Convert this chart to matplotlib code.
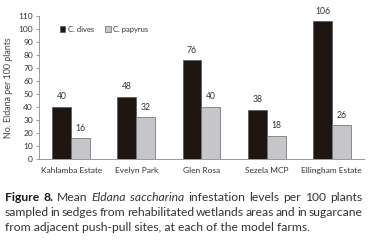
import matplotlib
matplotlib.use("Agg")
import matplotlib.pyplot as plt
import numpy as np

farms = ["Kahlamba Estate", "Evelyn Park", "Glen Rosa", "Sezela MCP", "Ellingham Estate"]
c_dives = [40, 48, 76, 38, 106]
c_papyrus = [16, 32, 40, 18, 26]
series_names = ["C. dives", "C. papyrus"]
yticks = list(range(0, 111, 10))

caption_lines = [
    [("Figure", "bold"), ("8.", "bold"), ("Mean", "normal"), ("Eldana", "italic"),
     ("saccharina", "italic"), ("infestation", "normal"), ("levels", "normal"),
     ("per", "normal"), ("100", "normal"), ("plants", "normal")],
    [(w, "normal") for w in "sampled in sedges from rehabilitated wetlands areas and in sugarcane".split()],
]
last_line = "from adjacent push-pull sites, at each of the model farms."

plt.rcParams["font.family"] = ["Lato", "DejaVu Sans"]

fig = plt.figure(figsize=(3.78, 2.41), dpi=100)
ax = fig.add_axes([0.102, 0.340, 0.862, 0.594])

x = np.arange(len(farms))
w = 0.29
dark = "#1f1512"
light = "#c6c6ca"
b1 = ax.bar(x - w / 2, c_dives, w, color=dark, edgecolor="#555555", linewidth=0.5, label=series_names[0])
b2 = ax.bar(x + w / 2, c_papyrus, w, color=light, edgecolor="#666666", linewidth=0.5, label=series_names[1])

for bars in (b1, b2):
    for bar in bars:
        h = bar.get_height()
        ax.annotate(f"{int(h)}", (bar.get_x() + bar.get_width() / 2, h),
                    xytext=(0, 4), textcoords="offset points",
                    ha="center", va="bottom", fontsize=6.2, color="#333333")

ax.set_xlim(-0.5, len(farms) - 0.5)
ax.set_ylim(0, 110)
ax.set_yticks(yticks)
ax.set_xticks(x)
ax.set_xticklabels(farms)
ax.tick_params(axis="y", labelsize=6, colors="#888888", labelcolor="#333333", length=2, width=0.6, pad=2)
ax.tick_params(axis="x", labelsize=6, labelcolor="#333333", length=0, pad=6)
for s in ("top", "right"):
    ax.spines[s].set_visible(False)
for s in ("left", "bottom"):
    ax.spines[s].set_color("#999999")
    ax.spines[s].set_linewidth(0.7)
ax.set_ylabel("No. Eldana per 100 plants", fontsize=6.4, color="#444444", labelpad=4)

leg = ax.legend(loc="upper left", bbox_to_anchor=(0.045, 0.98), ncol=2, frameon=False,
                fontsize=5.5, handlelength=0.7, handleheight=0.7, handletextpad=0.3,
                columnspacing=1.5, labelcolor="#333333")

# caption: first two lines justified, last line plain
left_px, right_px = 5, 362
baselines = [201, 216, 231]
fs = 8.7
line_texts = []
for i, line in enumerate(caption_lines):
    y = 1 - baselines[i] / 241
    texts = []
    for word, style in line:
        kw = dict(fontsize=fs, va="baseline", ha="left", color="#333333")
        if style == "bold":
            kw.update(fontweight="bold", color="#1a1a1a")
        elif style == "italic":
            kw.update(fontstyle="italic")
        texts.append(fig.text(0, y, word, **kw))
    line_texts.append(texts)
fig.text(left_px / 378, 1 - baselines[2] / 241, last_line, fontsize=fs,
         va="baseline", ha="left", color="#333333")

fig.canvas.draw()
renderer = fig.canvas.get_renderer()
for texts in line_texts:
    widths = [t.get_window_extent(renderer).width for t in texts]
    gap = (right_px - left_px - sum(widths)) / (len(texts) - 1)
    xpos = left_px
    for t, wd in zip(texts, widths):
        t.set_x(xpos / 378)
        xpos += wd + gap

fig.savefig("out.png", dpi=100)
